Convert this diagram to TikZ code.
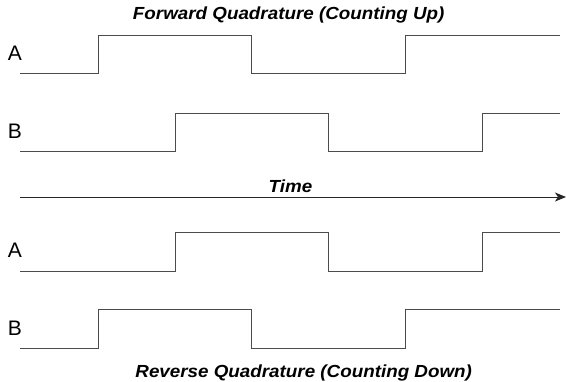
\documentclass[tikz,border=0pt]{standalone}
\usepackage{fontspec}
\setmainfont{Liberation Sans}
\usetikzlibrary{arrows.meta}
\begin{document}
\begin{tikzpicture}[x=1pt,y=-1pt,
  wave/.style={draw=black!70,line width=0.9pt,line join=miter},
  lbl/.style={font=\fontsize{21}{23}\selectfont,inner sep=0pt,anchor=base},
  ttl/.style={font=\fontsize{17.5}{19}\selectfont\bfseries\itshape,inner sep=0pt,anchor=base,xscale=1.075}]
\useasboundingbox (0,0) rectangle (566,381);
\node[ttl] (t1) at (288.7,19) {Forward Quadrature (Counting Up)};
\node[ttl] (t2) at (303.7,377) {Reverse Quadrature (Counting Down)};
\node[ttl] (tm) at (290.5,192) {Time};
\node[lbl] (la1) at (15,60) {A};
\node[lbl] (lb1) at (15,138) {B};
\node[lbl] (la2) at (15,257) {A};
\node[lbl] (lb2) at (15,335) {B};
% forward A
\draw[wave] (20,73) -- (98,73) -- (98,35) -- (251,35) -- (251,73) -- (405,73) -- (405,35) -- (560,35);
% forward B
\draw[wave] (20,151) -- (175,151) -- (175,113) -- (328,113) -- (328,151) -- (482,151) -- (482,113) -- (560,113);
% time axis
\coordinate (ts) at (20,197);
\coordinate (te) at (566,197);
\draw[black!85,line width=1pt,-{Stealth[length=11pt,width=9pt,inset=3pt]}] (ts) -- (te);
% reverse A
\draw[wave] (20,271) -- (175,271) -- (175,232) -- (328,232) -- (328,271) -- (482,271) -- (482,232) -- (560,232);
% reverse B
\draw[wave] (20,348) -- (98,348) -- (98,309) -- (251,309) -- (251,348) -- (405,348) -- (405,309) -- (560,309);
\end{tikzpicture}
\end{document}
